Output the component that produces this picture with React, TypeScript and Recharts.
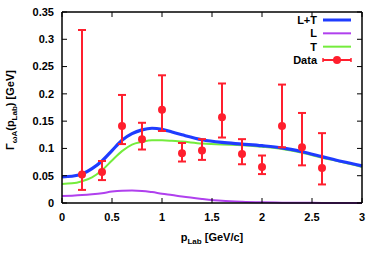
import React from "react";
import {
  ComposedChart,
  Line,
  Scatter,
  ErrorBar,
  XAxis,
  YAxis,
  Legend,
  Label,
} from "recharts";

// Model curves
const curveX = [0, 0.1, 0.2, 0.3, 0.4, 0.5, 0.6, 0.7, 0.8, 0.9, 1.0, 1.1, 1.2, 1.4, 1.6, 1.8, 2.0, 2.2, 2.4, 2.6, 2.8, 3.0];
const ltVals = [0.048, 0.049, 0.053, 0.063, 0.077, 0.096, 0.115, 0.127, 0.134, 0.137, 0.135, 0.13, 0.125, 0.116, 0.111, 0.108, 0.105, 0.101, 0.094, 0.085, 0.076, 0.068];
const lVals = [0.0128, 0.0135, 0.0145, 0.016, 0.018, 0.021, 0.0225, 0.0228, 0.0222, 0.02, 0.017, 0.0145, 0.0118, 0.0075, 0.004, 0.0022, 0.0012, 0.0006, 0.0003, 0.0002, 0.0001, 0.0];
const tVals = [0.035, 0.036, 0.04, 0.047, 0.06, 0.078, 0.095, 0.107, 0.112, 0.115, 0.115, 0.114, 0.1125, 0.109, 0.107, 0.106, 0.103, 0.099, 0.092, 0.083, 0.075, 0.066];

// Measured data with error bars
const dataX = [0.2, 0.4, 0.6, 0.8, 1.0, 1.2, 1.4, 1.6, 1.8, 2.0, 2.2, 2.4, 2.6];
const dataY = [0.052, 0.057, 0.141, 0.117, 0.171, 0.091, 0.096, 0.157, 0.09, 0.066, 0.141, 0.102, 0.064];
const dataLo = [0.024, 0.042, 0.108, 0.098, 0.132, 0.076, 0.079, 0.12, 0.071, 0.053, 0.102, 0.069, 0.034];
const dataHi = [0.317, 0.077, 0.198, 0.147, 0.234, 0.11, 0.117, 0.219, 0.117, 0.087, 0.217, 0.165, 0.128];

const xTicks = [0, 0.5, 1, 1.5, 2, 2.5, 3];
const yTicks = [0, 0.05, 0.1, 0.15, 0.2, 0.25, 0.3, 0.35];

const seriesNames = ["L+T", "L", "T", "Data"];

const BLUE = "#1f3cff";
const PURPLE = "#b040ee";
const GREEN = "#74ec3c";
const RED = "#ff1f2e";
const FONT = "'Liberation Sans', Arial, Helvetica, sans-serif";

const curveData = curveX.map((x, i) => ({ x, lt: ltVals[i], l: lVals[i], t: tVals[i] }));
const pointData = dataX.map((x, i) => ({
  x,
  y: dataY[i],
  err: [dataY[i] - dataLo[i], dataHi[i] - dataY[i]],
}));

const CHART_W = 381;
const CHART_H = 260;
const MARGIN = { top: 11, right: 18, bottom: 27, left: 0 };
const FRAME_AXIS = 1;
const PLOT_TOP = MARGIN.top + FRAME_AXIS;
const PLOT_RIGHT = CHART_W - MARGIN.right - FRAME_AXIS;

const X_MARGIN = 10;
const Y_MARGIN = 8;
const TICK_LEN = 5;

// Bottom tick: label + inward tick on bottom and mirrored one on the top frame
const XTick = (p: any) => (
  <g>
    <line x1={p.x} x2={p.x} y1={p.y - X_MARGIN} y2={p.y - X_MARGIN - TICK_LEN} stroke="#000" strokeWidth={1} />
    <line x1={p.x} x2={p.x} y1={PLOT_TOP} y2={PLOT_TOP + TICK_LEN} stroke="#000" strokeWidth={1} />
    <text x={p.x} y={p.y} dy="0.71em" textAnchor="middle" fontFamily={FONT} fontWeight="bold" fontSize={11} fill="#000">
      {p.payload.value}
    </text>
  </g>
);

// Left tick: label + inward tick on left and mirrored one on the right frame
const YTick = (p: any) => (
  <g>
    <line x1={p.x + Y_MARGIN} x2={p.x + Y_MARGIN + TICK_LEN} y1={p.y} y2={p.y} stroke="#000" strokeWidth={1} />
    <line x1={PLOT_RIGHT} x2={PLOT_RIGHT - TICK_LEN} y1={p.y} y2={p.y} stroke="#000" strokeWidth={1} />
    <text x={p.x} y={p.y} dy="0.355em" textAnchor="end" fontFamily={FONT} fontWeight="bold" fontSize={11} fill="#000">
      {p.payload.value}
    </text>
  </g>
);

const NoTick = () => <g />;

const XLabelContent = (props: any) => {
  const vb = props.viewBox || {};
  const cx = vb.x + vb.width / 2;
  const y = vb.y + 38;
  return (
    <text x={cx} y={y} textAnchor="middle" fontFamily={FONT} fontWeight="bold" fontSize={11} fill="#000">
      <tspan>p</tspan>
      <tspan fontSize={8} dy={3}>Lab</tspan>
      <tspan dy={-3}> [GeV/c]</tspan>
    </text>
  );
};

const YLabelContent = () => {
  const cx = 14;
  const cy = 110;
  return (
    <text
      x={cx}
      y={cy}
      textAnchor="middle"
      transform={`rotate(-90 ${cx} ${cy})`}
      fontFamily={FONT}
      fontWeight="bold"
      fontSize={11}
      fill="#000"
    >
      <tspan>Γ</tspan>
      <tspan fontSize={8} dy={3}>ωA</tspan>
      <tspan dy={-3}>(p</tspan>
      <tspan fontSize={8} dy={3}>Lab</tspan>
      <tspan dy={-3}>) [GeV]</tspan>
    </text>
  );
};

const LegendContent = () => {
  const colors = [BLUE, PURPLE, GREEN, RED];
  const widths = [3, 2, 2, 2];
  return (
    <svg width={118} height={58} style={{ display: "block" }}>
      {seriesNames.map((name, i) => {
        const y = 8 + i * 13.33;
        return (
          <g key={name}>
            <text x={77} y={y} dy="0.36em" textAnchor="end" fontFamily={FONT} fontWeight="bold" fontSize={11} fill="#000">
              {name}
            </text>
            <line x1={83} x2={111} y1={y} y2={y} stroke={colors[i]} strokeWidth={widths[i]} />
            {name === "Data" && (
              <g>
                <line x1={83} x2={83} y1={y - 2} y2={y + 2} stroke={RED} strokeWidth={1.5} />
                <line x1={111} x2={111} y1={y - 2} y2={y + 2} stroke={RED} strokeWidth={1.5} />
                <circle cx={97} cy={y} r={4} fill={RED} />
              </g>
            )}
          </g>
        );
      })}
    </svg>
  );
};

const Dot = (props: any) => <circle cx={props.cx} cy={props.cy} r={4} fill={RED} />;

export default function App() {
  return (
    <div style={{ position: "absolute", left: 0, top: 0, width: CHART_W, height: CHART_H, background: "#fff" }}>
      <ComposedChart width={CHART_W} height={CHART_H} data={curveData} margin={MARGIN}>
        <XAxis
          xAxisId={0}
          type="number"
          dataKey="x"
          domain={[0, 3]}
          ticks={xTicks}
          tickLine={false}
          tickSize={0}
          tickMargin={X_MARGIN}
          tick={XTick}
          axisLine={{ stroke: "#000", strokeWidth: 1.5 }}
          height={30}
          interval={0}
        >
          <Label content={XLabelContent} />
        </XAxis>
        <XAxis
          xAxisId="top"
          type="number"
          dataKey="x"
          domain={[0, 3]}
          allowDataOverflow
          ticks={xTicks}
          orientation="top"
          tick={NoTick}
          tickLine={false}
          tickSize={0}
          tickMargin={0}
          axisLine={{ stroke: "#000", strokeWidth: 1.5 }}
          height={FRAME_AXIS}
          interval={0}
        />
        <YAxis
          yAxisId={0}
          type="number"
          domain={[0, 0.35]}
          ticks={yTicks}
          tickLine={false}
          tickSize={0}
          tickMargin={Y_MARGIN}
          tick={YTick}
          axisLine={{ stroke: "#000", strokeWidth: 1.5 }}
          width={62}
          interval={0}
        >
          <Label content={YLabelContent} />
        </YAxis>
        <YAxis
          yAxisId="right"
          type="number"
          domain={[0, 0.35]}
          allowDataOverflow
          ticks={yTicks}
          orientation="right"
          tick={NoTick}
          tickLine={false}
          tickSize={0}
          tickMargin={0}
          axisLine={{ stroke: "#000", strokeWidth: 1.5 }}
          width={FRAME_AXIS}
          interval={0}
        />
        <Legend
          layout="vertical"
          align="center"
          verticalAlign="middle"
          content={LegendContent}
          wrapperStyle={{ position: "absolute", left: 240, top: 12, width: 118, height: 58 }}
        />
        <Line dataKey="l" name="L" type="monotone" stroke={PURPLE} strokeWidth={2} dot={false} isAnimationActive={false} />
        <Line dataKey="t" name="T" type="monotone" stroke={GREEN} strokeWidth={2} dot={false} isAnimationActive={false} />
        <Line dataKey="lt" name="L+T" type="monotone" stroke={BLUE} strokeWidth={3.2} dot={false} isAnimationActive={false} />
        <Scatter
          data={pointData}
          dataKey="y"
          name="Data"
          xAxisId="top"
          yAxisId="right"
          fill={RED}
          shape={Dot}
          isAnimationActive={false}
        >
          <ErrorBar dataKey="err" direction="y" stroke={RED} strokeWidth={2} width={4} isAnimationActive={false} />
        </Scatter>
      </ComposedChart>
    </div>
  );
}
